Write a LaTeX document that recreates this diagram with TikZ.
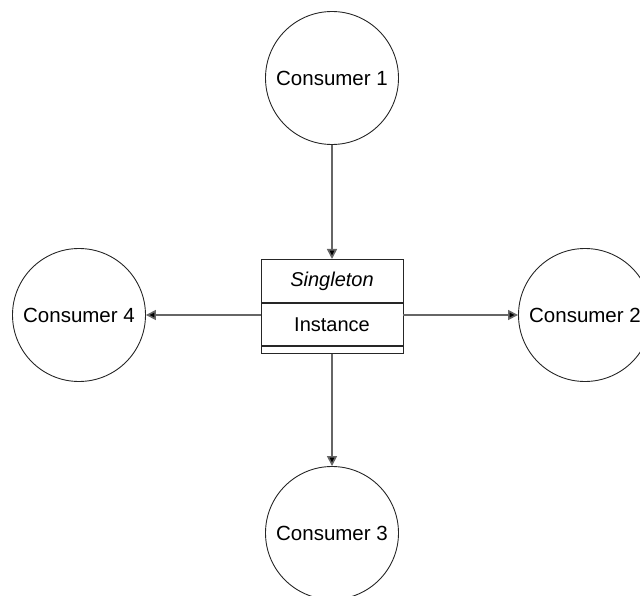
\documentclass[tikz,border=0pt]{standalone}
\usepackage{fontspec}
\setmainfont{Liberation Sans}
\usetikzlibrary{arrows.meta}
\begin{document}
\begin{tikzpicture}[x=1pt,y=-1pt,
  consumer/.style={circle,draw=black!85,line width=0.9pt,minimum size=133pt,inner sep=0pt,font=\fontsize{20.5}{24}\selectfont},
  part/.style={rectangle,draw=black!85,line width=0.9pt,minimum width=142pt,inner sep=0pt,anchor=north,font=\fontsize{20}{24}\selectfont},
  link/.style={draw=black!60,line width=1.6pt,-{Triangle[length=10pt,width=10pt,fill=black]}}]
  \useasboundingbox (0,0) rectangle (640,596);
  % consumers around the singleton
  \node[consumer] (c1) at (332,78) {Consumer 1};
  \node[consumer] (c2) at (585,315) {Consumer 2};
  \node[consumer] (c3) at (332,533) {Consumer 3};
  \node[consumer] (c4) at (79,315) {Consumer 4};
  % class box: name, attribute, empty operations
  \node[part,minimum height=43pt] (name) at (332,259) {\itshape Singleton};
  \node[part,minimum height=42pt] (attr) at (name.south) {Instance};
  \node[part,minimum height=7pt] (ops) at (attr.south) {};
  % connectors
  \draw[link] (c1) -- (name.north);
  \draw[link] (ops.south) -- (c3);
  \draw[link] (c4.east -| attr.west) -- (c4.east);
  \draw[link] (c2.west -| attr.east) -- (c2.west);
\end{tikzpicture}
\end{document}
